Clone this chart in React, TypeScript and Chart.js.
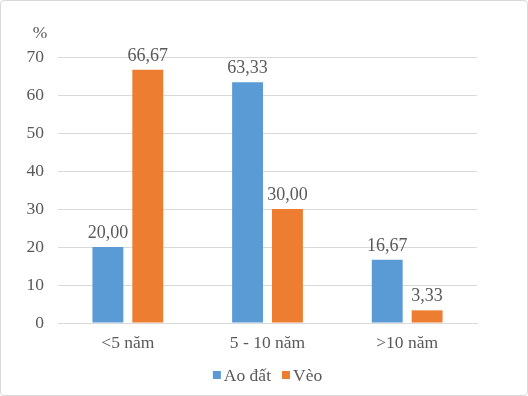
import React, { useEffect, useRef } from "react";
import { Chart, registerables } from "chart.js";

Chart.register(...registerables);

const categories = ["<5 năm", "5 - 10 năm", ">10 năm"];
const aoDat = [20.0, 63.33, 16.67];
const veo = [66.67, 30.0, 3.33];
const seriesNames = ["Ao đất", "Vèo"];
const seriesColors = ["#5B9BD5", "#ED7D31"];
const yTicks = { min: 0, max: 70, step: 10 };
const unitLabel = "%";

const FONT = "'Liberation Serif', serif";
const TEXT = "#595959";
const FS = 17.5;

const valueLabels = {
  id: "valueLabels",
  afterDatasetsDraw(chart: any) {
    const ctx = chart.ctx;
    ctx.save();
    ctx.font = `18px ${FONT}`;
    ctx.fillStyle = TEXT;
    ctx.textAlign = "center";
    ctx.textBaseline = "alphabetic";
    chart.data.datasets.forEach((ds: any, i: number) => {
      const meta = chart.getDatasetMeta(i);
      meta.data.forEach((bar: any, j: number) => {
        const v = ds.data[j] as number;
        ctx.fillText(v.toFixed(2).replace(".", ","), bar.x, bar.y - 9);
      });
    });
    ctx.restore();
  },
};

const unitAndLegend = {
  id: "unitAndLegend",
  afterDraw(chart: any) {
    const ctx = chart.ctx;
    ctx.save();
    ctx.font = `${FS}px ${FONT}`;
    ctx.fillStyle = TEXT;
    ctx.textAlign = "center";
    ctx.textBaseline = "middle";
    ctx.fillText(unitLabel, 39, 32);

    // legend
    const box = 8;
    const gapBoxText = 3;
    const gapItems = 11;
    const items = chart.data.datasets.map((ds: any) => ({
      label: ds.label as string,
      color: ds.backgroundColor as string,
      w: ctx.measureText(ds.label).width,
    }));
    const total =
      items.reduce((a: number, it: any) => a + box + gapBoxText + it.w, 0) +
      gapItems * (items.length - 1);
    const cx = (chart.chartArea.left + chart.chartArea.right) / 2;
    let x = cx - total / 2;
    const y = 374;
    ctx.textAlign = "left";
    items.forEach((it: any) => {
      ctx.fillStyle = it.color;
      ctx.fillRect(x, y - box / 2, box, box);
      x += box + gapBoxText;
      ctx.fillStyle = TEXT;
      ctx.fillText(it.label, x, y + 1);
      x += it.w + gapItems;
    });
    ctx.restore();
  },
};

export default function App() {
  const ref = useRef<HTMLCanvasElement>(null);
  useEffect(() => {
    if (!ref.current) return;
    const chart = new Chart(ref.current, {
      type: "bar",
      data: {
        labels: categories,
        datasets: [
          {
            label: seriesNames[0],
            data: aoDat,
            backgroundColor: seriesColors[0],
            categoryPercentage: 0.571,
            barPercentage: 0.775,
          },
          {
            label: seriesNames[1],
            data: veo,
            backgroundColor: seriesColors[1],
            categoryPercentage: 0.571,
            barPercentage: 0.775,
          },
        ],
      },
      options: {
        animation: false,
        responsive: false,
        maintainAspectRatio: false,
        layout: { padding: { left: 0, right: 50, top: 56, bottom: 0 } },
        scales: {
          x: {
            grid: { display: false },
            border: { color: "#d9d9d9" },
            ticks: { color: TEXT, font: { family: FONT, size: FS }, padding: 2 },
            afterFit: (s: any) => {
              s.height = 72;
            },
          },
          y: {
            min: yTicks.min,
            max: yTicks.max,
            ticks: {
              stepSize: yTicks.step,
              color: TEXT,
              font: { family: FONT, size: FS },
              padding: 14,
            },
            grid: { color: "#d9d9d9", drawTicks: false },
            border: { display: false },
            afterFit: (s: any) => {
              s.width = 57;
            },
          },
        },
        plugins: {
          legend: { display: false },
          tooltip: { enabled: false },
        },
      },
      plugins: [valueLabels, unitAndLegend],
    });
    return () => chart.destroy();
  }, []);
  return (
    <div
      style={{
        position: "fixed",
        left: 0,
        top: 0,
        width: 526,
        height: 394,
        border: "1px solid #d9d9d9",
        borderRadius: 4,
        background: "#fff",
      }}
    >
      <canvas ref={ref} width={526} height={394} style={{ display: "block" }} />
    </div>
  );
}
